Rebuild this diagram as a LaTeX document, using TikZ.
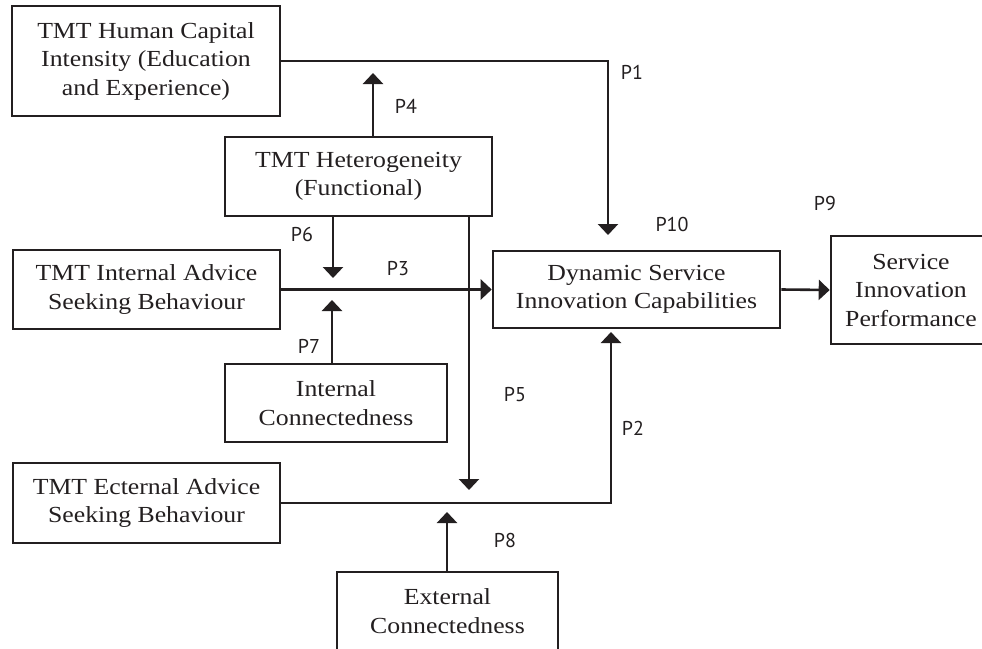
\documentclass[tikz,border=0pt]{standalone}
\usepackage{fontspec}
\setmainfont{Liberation Serif}[FakeStretch=1.12]
\newfontfamily\lblfont{PT Sans}
\usetikzlibrary{arrows.meta}
\definecolor{ink}{HTML}{231F20}
\tikzset{
  box/.style={draw=ink, line width=2.6pt, text=ink, align=center, inner sep=0pt,
    font=\fontsize{23}{28.5}\selectfont},
  arr/.style={draw=ink, line width=2.6pt, -{Triangle[width=20pt,length=11pt]}},
  lbl/.style={text=ink, font=\lblfont\fontsize{20}{24}\selectfont, inner sep=0pt}
}
\begin{document}
\begin{tikzpicture}[x=1pt,y=-1pt]
\useasboundingbox (0,0) rectangle (982,648);
% boxes
\node[box, minimum width=268pt, minimum height=110pt] (A) at (146,61) {TMT Human Capital\\Intensity (Education\\and Experience)};
\node[box, minimum width=267pt, minimum height=79pt] (B) at (358.5,176.5) {TMT Heterogeneity\\(Functional)};
\node[box, minimum width=267pt, minimum height=79pt] (C) at (146.5,289.5) {TMT Internal Advice\\Seeking Behaviour};
\node[box, minimum width=222pt, minimum height=78pt] (D) at (336,403) {Internal\\Connectedness};
\node[box, minimum width=267pt, minimum height=80pt] (E) at (146.5,503) {TMT Ecternal Advice\\Seeking Behaviour};
\node[box, minimum width=221pt, minimum height=78pt] (F) at (447.5,611) {External\\Connectedness};
\node[box, minimum width=287pt, minimum height=77pt] (G) at (636.5,289.5) {Dynamic Service\\Innovation Capabilities};
\node[box, minimum width=160pt, minimum height=108pt] (H) at (911,290) {Service\\Innovation\\Performance};
% coordinates
\coordinate (c1) at (608,61);
\coordinate (t1) at (608,235);
\coordinate (t4) at (373,73);
\coordinate (t6) at (333,278);
\coordinate (t5) at (469,490);
\coordinate (t7) at (332,300);
\coordinate (c2) at (611,503);
\coordinate (t2) at (611,332);
\coordinate (t8) at (447,512);
% connectors
\draw[arr] (A.east |- c1) -- (c1) -- (t1);
\draw[arr] (B.north -| t4) -- (t4);
\draw[arr] (B.south -| t6) -- (t6);
\draw[arr] (B.south -| t5) -- (t5);
\draw[arr] (C.east) -- (G.west);
\draw[arr] (D.north -| t7) -- (t7);
\draw[arr] (E.east |- c2) -- (c2) -- (t2);
\draw[arr] (F.north -| t8) -- (t8);
\draw[arr] (G.east) -- (H.west);
% labels
\node[lbl] (P1) at (632,72) {P1};
\node[lbl] (P2) at (633,428) {P2};
\node[lbl] (P3) at (398,269) {P3};
\node[lbl] (P4) at (406,106) {P4};
\node[lbl] (P5) at (515,395) {P5};
\node[lbl] (P6) at (302,234) {P6};
\node[lbl] (P7) at (309,346) {P7};
\node[lbl] (P8) at (505,540) {P8};
\node[lbl] (P9) at (825,203) {P9};
\node[lbl] (P10) at (672,224) {P10};
\end{tikzpicture}
\end{document}
